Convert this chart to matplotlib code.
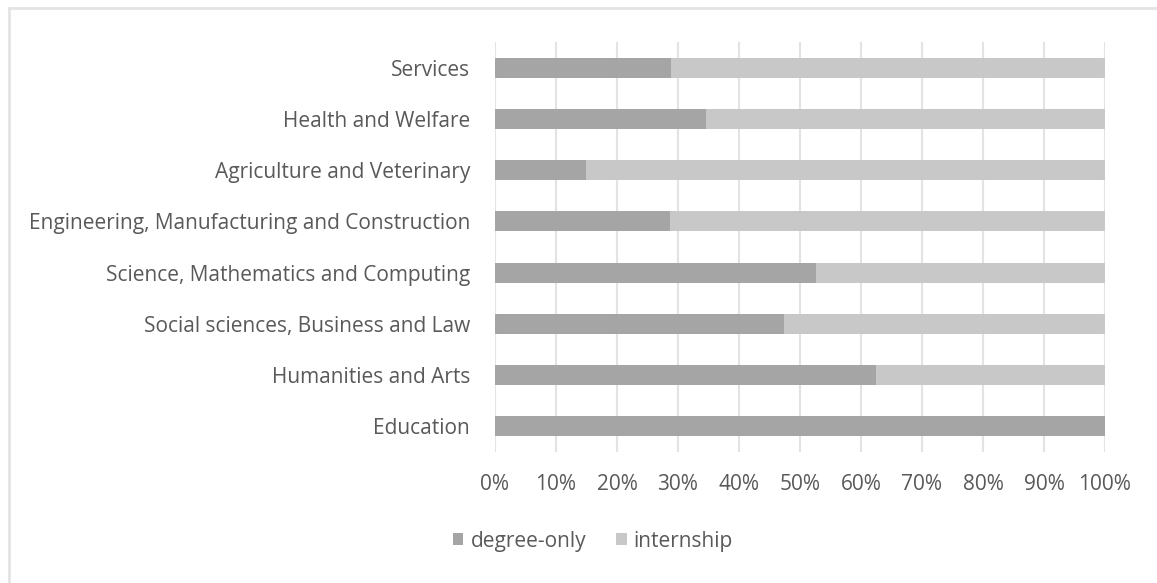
import numpy as np
import matplotlib
matplotlib.use('Agg')
import matplotlib.pyplot as plt
from matplotlib.lines import Line2D

plt.rcParams['font.family'] = ['Open Sans', 'DejaVu Sans']

# Données (part en %)
categories = ['Education', 'Humanities and Arts', 'Social sciences, Business and Law',
              'Science, Mathematics and Computing',
              'Engineering, Manufacturing and Construction',
              'Agriculture and Veterinary', 'Health and Welfare', 'Services']
degree_only = [100, 62.5, 47.4, 52.6, 28.7, 15.0, 34.6, 28.9]
internship = [100 - d for d in degree_only]
ticks = np.arange(0, 101, 10)

c_dark = '#a5a5a5'
c_light = '#c8c8c8'
c_text = '#595959'
fs = 15

fig = plt.figure(figsize=(11.57, 5.83), dpi=100)
ax = fig.add_axes([0.4278, 0.2254, 0.5272, 0.7019])

y = np.arange(len(categories))
ax.barh(y, degree_only, height=0.39, color=c_dark, label='degree-only', zorder=3)
ax.barh(y, internship, left=degree_only, height=0.39, color=c_light,
        label='internship', zorder=3)

ax.set_xlim(0, 100)
ax.set_ylim(-0.5, len(categories) - 0.5)
ax.set_xticks(ticks)
ax.set_xticklabels(['{}%'.format(t) for t in ticks])
ax.set_yticks(y)
ax.set_yticklabels(categories)
ax.grid(axis='x', color='#e3e3e3', linewidth=1.5, zorder=0)
for s in ax.spines.values():
    s.set_visible(False)
ax.tick_params(axis='both', length=0, labelsize=fs, colors=c_text)
ax.tick_params(axis='x', pad=16)
ax.tick_params(axis='y', pad=18)

ax.legend(loc='center', bbox_to_anchor=(0.5125, 0.072), bbox_transform=fig.transFigure,
          ncol=2, frameon=False, fontsize=fs, labelcolor=c_text,
          handlelength=0.5, handleheight=0.55, handletextpad=0.34, columnspacing=1.44)

# Cadre du graphique (bords gauche et haut visibles)
fig.add_artist(Line2D([9 / 1157, 9 / 1157], [0, 1 - 8 / 583], transform=fig.transFigure,
                      color='#e3e3e3', linewidth=2))
fig.add_artist(Line2D([9 / 1157, 1], [1 - 8 / 583, 1 - 8 / 583], transform=fig.transFigure,
                      color='#e3e3e3', linewidth=2))

plt.savefig('out.png')
